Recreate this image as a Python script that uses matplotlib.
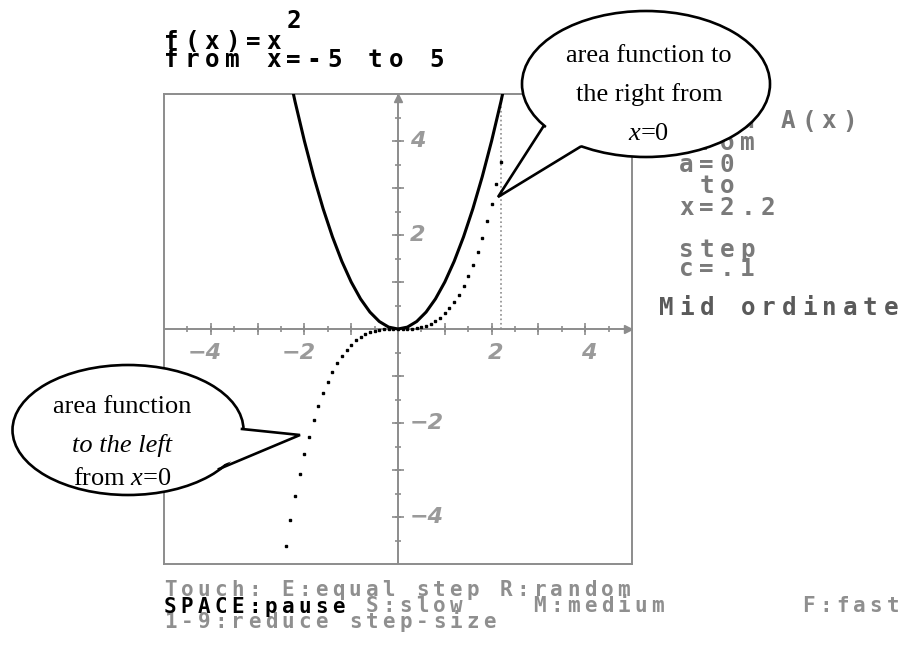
import matplotlib
matplotlib.use("Agg")
import matplotlib.pyplot as plt
from matplotlib.patches import Ellipse, Polygon
from matplotlib.font_manager import FontProperties

plt.rcParams['mathtext.fontset'] = 'custom'
plt.rcParams['mathtext.rm'] = 'Liberation Serif'
plt.rcParams['mathtext.it'] = 'Liberation Serif:italic'

# ---------------- data ----------------
x_range = (-5, 5)
y_range = (-5, 5)

# f(x) = x^2 (solid curve)
curve_x = [-2.4, -2.2, -2.0, -1.8, -1.6, -1.4, -1.2, -1.0, -0.8, -0.6, -0.4, -0.2, 0.0,
           0.2, 0.4, 0.6, 0.8, 1.0, 1.2, 1.4, 1.6, 1.8, 2.0, 2.2, 2.4]
curve_y = [5.76, 4.84, 4.00, 3.24, 2.56, 1.96, 1.44, 1.00, 0.64, 0.36, 0.16, 0.04, 0.00,
           0.04, 0.16, 0.36, 0.64, 1.00, 1.44, 1.96, 2.56, 3.24, 4.00, 4.84, 5.76]

# area function A(x), dots with step c=.1
area_x = [-2.4, -2.3, -2.2, -2.1, -2.0, -1.9, -1.8, -1.7, -1.6, -1.5, -1.4, -1.3, -1.2,
          -1.1, -1.0, -0.9, -0.8, -0.7, -0.6, -0.5, -0.4, -0.3, -0.2, -0.1, 0.0,
          0.1, 0.2, 0.3, 0.4, 0.5, 0.6, 0.7, 0.8, 0.9, 1.0, 1.1, 1.2, 1.3, 1.4, 1.5,
          1.6, 1.7, 1.8, 1.9, 2.0, 2.1, 2.2]
area_y = [-4.61, -4.06, -3.55, -3.09, -2.67, -2.29, -1.94, -1.64, -1.37, -1.13, -0.92, -0.73, -0.58,
          -0.44, -0.33, -0.24, -0.17, -0.11, -0.07, -0.04, -0.02, -0.01, 0.00, 0.00, 0.00,
          0.00, 0.00, 0.01, 0.02, 0.04, 0.07, 0.11, 0.17, 0.24, 0.33, 0.44, 0.58, 0.73, 0.92, 1.13,
          1.37, 1.64, 1.94, 2.29, 2.67, 3.09, 3.55]
x_upper = 2.2

half_ticks = [-4.5, -4, -3.5, -3, -2.5, -2, -1.5, -1, -0.5, 0.5, 1, 1.5, 2, 2.5, 3, 3.5, 4, 4.5]
major_ticks = [-4, -3, -2, -1, 1, 2, 3, 4]
tick_vals = [-4, -2, 2, 4]
tick_text = ['\u22124', '\u22122', '2', '4']

title_lines = ['f(x)=x', 'from x=-5 to 5']
title_sup = '2'
side_lines = ['area A(x)', 'from', 'a=0', ' to', 'x=2.2']
step_lines = ['step', 'c=.1']
method_text = 'Mid ordinate'
keys_lines = ['Touch: E:equal step R:random',
              '            S:slow    M:medium        F:fast',
              '1-9:reduce step-size']
keys_black = 'SPACE:pause'

right_note = ['area function to', 'the right from', '$x$=0']
left_note = ['area function', 'to the left', 'from $x$=0']

# ---------------- figure ----------------
W, H = 906, 652
fig = plt.figure(figsize=(W / 100, H / 100), dpi=100)
fig.patch.set_facecolor('white')
renderer = fig.canvas.get_renderer()

GREY = '#8c8c8c'
ax = fig.add_axes([164 / W, 1 - 564 / H, 468 / W, 470 / H])
ax.set_xlim(*x_range); ax.set_ylim(*y_range)
ax.set_xticks([]); ax.set_yticks([])
for sp in ax.spines.values():
    sp.set_color(GREY); sp.set_linewidth(1.4)

ax.axhline(0, color=GREY, lw=1.4, zorder=1)
ax.axvline(0, color=GREY, lw=1.4, zorder=1)
ax.plot(half_ticks, [0] * len(half_ticks), '|', color=GREY, ms=5, mew=1.2)
ax.plot(major_ticks, [0] * len(major_ticks), '|', color=GREY, ms=9, mew=1.2)
ax.plot([0] * len(half_ticks), half_ticks, '_', color=GREY, ms=5, mew=1.2)
ax.plot([0] * len(major_ticks), major_ticks, '_', color=GREY, ms=9, mew=1.2)
ax.plot([x_range[1] - 0.08], [0], '>', color=GREY, ms=6, clip_on=False)
ax.plot([0], [y_range[1] - 0.08], '^', color=GREY, ms=6, clip_on=False)

for v, t in zip(tick_vals, tick_text):
    ax.text(v + 0.24, -0.52, t, ha='right', va='center', fontsize=16, style='italic',
            fontweight='bold', color='#9a9a9a', family='DejaVu Sans')
    ax.text(0.25, v, t, ha='left', va='center', fontsize=16, style='italic',
            fontweight='bold', color='#9a9a9a', family='DejaVu Sans')

ax.plot([x_upper, x_upper], [0, y_range[1]], ':', color=GREY, lw=1.2)
ax.plot(curve_x, curve_y, '-', color='black', lw=2.2, zorder=3)
ax.plot(area_x, area_y, 's', color='black', ms=1.8, zorder=3)

# overlay in pixel coordinates for the screen text and the callouts
ov = fig.add_axes([0, 0, 1, 1], zorder=5)
ov.set_xlim(0, W); ov.set_ylim(H, 0); ov.axis('off')


def line_step(prop):
    # pixel distance between baselines at linespacing 1, measured on a throwaway text
    t1 = ov.text(0, 0, 'l', fontproperties=prop, linespacing=1.0)
    t2 = ov.text(0, 0, 'l\nl', fontproperties=prop, linespacing=1.0)
    d = t2.get_window_extent(renderer).height - t1.get_window_extent(renderer).height
    t1.remove(); t2.remove()
    return d


def screentext(x, y, lines, pitch, dy, size, color):
    """Fixed-pitch screen text: one text object per character column.
    y is the baseline of the first line, lines are dy px apart."""
    prop = FontProperties(family='DejaVu Sans Mono', weight='bold', size=size)
    ls = dy / line_step(prop)
    ncol = max(len(l) for l in lines)
    ylast = y + (len(lines) - 1) * dy
    for i in range(ncol):
        col = '\n'.join((l[i] if i < len(l) else ' ') for l in lines)
        if col.strip():
            ov.text(x + i * pitch, ylast, col, ha='left', va='baseline', fontproperties=prop,
                    color=color, linespacing=ls, multialignment='left', zorder=1)


P = 20.4
screentext(164, 50, title_lines, P, 17, 17.5, 'black')
screentext(164 + 6 * P, 28, [title_sup], P, 17, 17.5, 'black')
screentext(679, 131, side_lines, P, 21, 17.5, '#7a7a7a')
screentext(679, 258, step_lines, P, 18, 17.5, '#7a7a7a')
screentext(659, 315, [method_text], P, 18, 17.5, '#5a5a5a')

Q = 16.8
screentext(164, 598, keys_lines, Q, 15, 15, '#8f8f8f')
screentext(164, 613, [keys_black], Q, 15, 15, 'black')


def bubble(cx, cy, w, h, base1, base2, tip, lines, ybase, xc, styles):
    ov.add_patch(Ellipse((cx, cy), w, h, facecolor='white', edgecolor='black', lw=1.9, zorder=10))
    # shift the base a touch inside so the ellipse edge is hidden there
    b1 = (base1[0] + (cx - base1[0]) * 0.04, base1[1] + (cy - base1[1]) * 0.04)
    b2 = (base2[0] + (cx - base2[0]) * 0.04, base2[1] + (cy - base2[1]) * 0.04)
    ov.add_patch(Polygon([b1, tip, b2], closed=True, facecolor='white', edgecolor='none', zorder=11))
    ov.plot([base1[0], tip[0], base2[0]], [base1[1], tip[1], base2[1]], color='black', lw=1.9,
            zorder=12, solid_joinstyle='miter')
    for s, yb, st in zip(lines, ybase, styles):
        ov.text(xc, yb, s, ha='center', va='baseline', fontsize=19, family='Liberation Serif',
                style=st, zorder=13)


bubble(646, 84, 248, 146, (543, 127), (580, 147), (498, 197), right_note,
       [62, 101, 140], 649, ['normal', 'normal', 'normal'])
bubble(128, 430, 231, 130, (242, 429), (219, 469), (300, 435), left_note,
       [413, 452, 485], 122, ['normal', 'italic', 'normal'])

fig.savefig('out.png', dpi=100)
